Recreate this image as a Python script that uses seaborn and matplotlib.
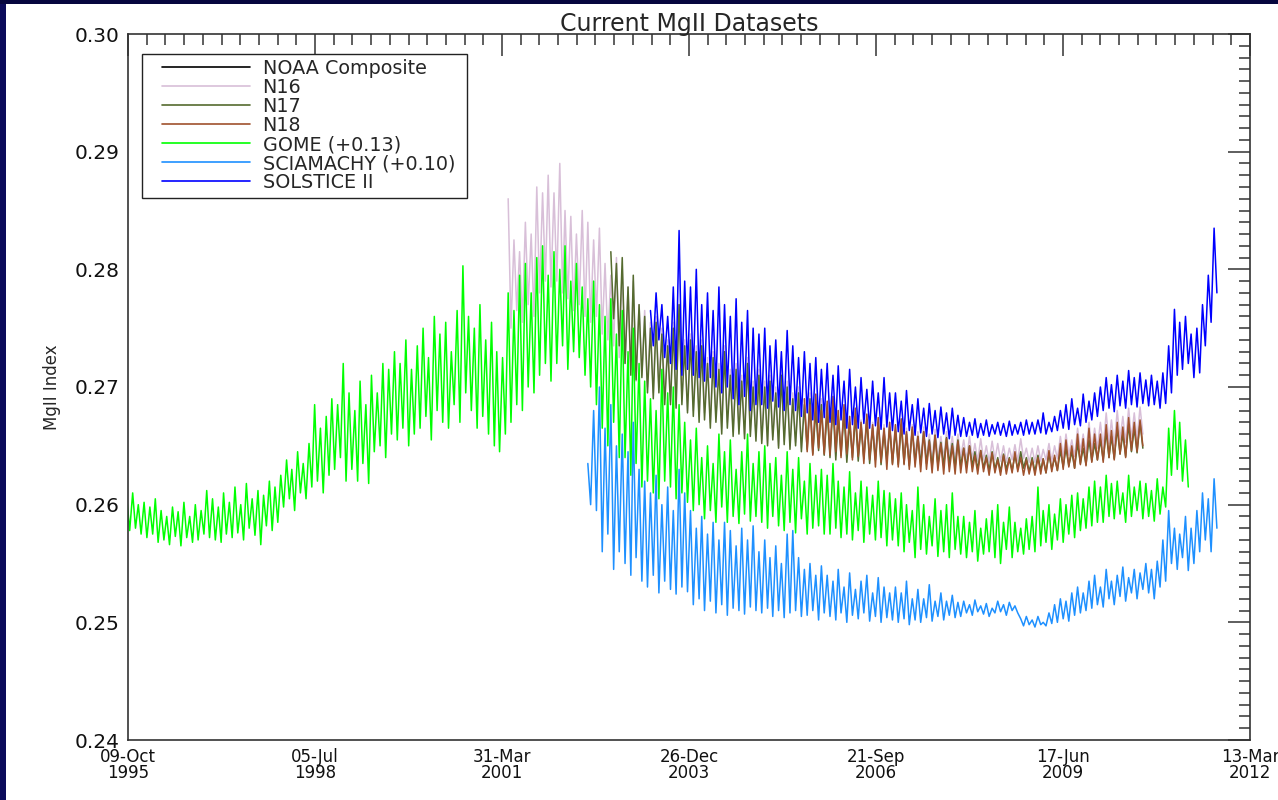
import pandas as pd
import numpy as np
import seaborn as sns
import matplotlib
matplotlib.use("Agg")
import matplotlib.pyplot as plt
import matplotlib.dates as mdates
from matplotlib.lines import Line2D
from matplotlib.ticker import MultipleLocator, FormatStrFormatter
from matplotlib.patches import Rectangle

# values, in units of 0.001 (MgII index x 1000)
# each series: monthly upper (rotation peak) and lower (trough) readings

# GOME (+0.13), Oct 1995 .. Apr 2011
gome_start = "1995-10"
gome_hi = [260.5, 261.0, 260.0,
           260.2, 259.8, 260.5, 259.5, 259.0, 259.8, 259.4, 260.2, 259.0, 260.0, 259.5, 261.2,
           260.5, 259.8, 261.0, 260.2, 261.5, 260.0, 261.8, 260.5, 261.2, 260.8, 262.0, 261.5,
           262.5, 263.8, 263.0, 264.5, 263.5, 265.2, 268.5, 266.5, 267.5, 269.0, 268.5, 272.0,
           269.5, 268.0, 270.5, 268.5, 271.0, 269.5, 272.0, 271.5, 273.0, 272.0, 274.0, 271.5,
           273.5, 275.0, 272.5, 276.0, 274.5, 275.5, 273.0, 276.5, 280.3, 276.0, 275.0, 277.0,
           274.0, 275.5, 273.0, 272.5, 278.0, 276.5, 279.5, 280.5, 278.0, 281.0, 282.0, 279.5,
           281.5, 280.0, 282.0, 279.0, 280.5, 278.5, 277.5, 279.0, 277.0, 276.0, 277.5, 274.5,
           276.5, 273.0, 275.0, 272.0, 270.5, 269.0, 268.0, 271.5, 269.5, 270.0, 268.5, 267.0,
           265.5, 266.5, 264.0, 265.0, 263.5, 266.0, 264.5, 265.5, 263.0, 264.5, 266.0, 263.5,
           264.5, 265.0, 263.5, 264.0, 262.5, 264.5, 263.0, 264.0, 262.0, 263.5, 262.5, 263.0,
           262.5, 263.5, 262.0, 261.5, 262.8, 261.0, 262.0, 261.5, 260.8, 262.0, 261.2, 261.0,
           260.5, 261.0, 260.0, 259.5, 261.5, 260.0, 259.0, 260.5, 259.5, 260.0, 261.0, 259.0,
           259.0, 258.5, 259.5, 258.0, 258.8, 259.5, 260.0, 258.5, 259.8, 258.5, 258.0, 258.8,
           259.0, 261.5, 259.5, 260.0, 259.2, 260.5, 260.0, 260.8, 261.0, 260.5, 261.5, 262.0,
           261.5, 262.5, 261.8, 262.0, 261.0, 262.5, 261.5, 262.0, 261.8, 261.2, 262.2, 261.5,
           266.5, 268.0, 267.0, 265.5]
gome_lo = [257.8, 258.0, 257.5,
           257.2, 257.5, 256.8, 257.0, 256.6, 257.3, 256.5, 257.2, 256.8, 257.0, 257.5, 257.2,
           257.0, 256.8, 257.5, 257.2, 257.6, 257.0, 258.0, 257.4, 256.6, 258.2, 257.8, 258.5,
           259.8, 260.5, 259.5, 261.0, 260.5, 261.5, 262.0, 261.0, 262.5, 263.0, 264.0, 262.0,
           263.0, 262.0, 263.5, 261.8, 264.5, 265.0, 264.0, 266.0, 265.5, 266.5, 265.0, 266.0,
           266.5, 267.5, 265.5, 268.0, 267.0, 266.5, 268.5, 267.0, 269.5, 268.0, 266.5, 267.5,
           266.0, 265.0, 264.5, 266.0, 267.0, 268.5, 268.0, 270.0, 269.5, 271.0, 272.0, 270.5,
           272.0, 273.5, 271.5, 273.0, 272.5, 271.0, 270.0, 268.5, 266.5, 265.0, 267.0, 264.0,
           264.0, 262.5, 263.5, 261.5, 262.0, 261.0, 260.5, 262.0, 261.5, 260.5, 261.0, 260.2,
           259.5, 260.0, 258.8, 259.5, 258.5, 259.8, 258.5, 259.0, 258.4, 259.2, 258.6, 259.0,
           258.5, 258.0, 259.0, 258.2, 257.8, 258.5, 257.6, 258.8, 257.5, 258.0, 258.2, 257.5,
           257.5, 258.0, 257.2, 257.5, 257.0, 257.8, 256.8, 257.5, 257.0, 257.2, 256.5, 257.0,
           256.5, 256.0, 256.8, 255.5, 256.2, 255.8, 256.5, 255.6, 256.0, 255.5, 256.2, 255.8,
           255.5, 256.0, 255.2, 255.8, 256.0, 255.5, 255.0, 256.2, 255.5, 256.0, 255.8, 256.2,
           256.0, 256.5, 256.8, 256.2, 257.0, 256.8, 257.5, 257.2, 257.8, 258.0, 258.2, 258.5,
           258.5, 259.0, 258.8, 259.2, 258.5, 259.0, 259.5, 258.8, 259.0, 258.6, 259.2, 259.8,
           262.5, 263.0, 262.0, 261.5]

# SCIAMACHY (+0.10), Jul 2002 .. Sep 2011
scia_start = "2002-07"
scia_hi = [263.5, 268.0, 270.0, 266.5, 268.5, 265.0,
           266.0, 264.5, 267.0, 263.0, 262.0, 261.0, 262.5, 260.0, 261.5, 259.5, 263.0, 261.0,
           259.5, 258.0, 259.0, 257.5, 258.5, 257.0, 258.5, 257.8, 256.5, 258.0, 257.0, 258.2,
           256.0, 257.0, 255.5, 256.5, 255.0, 257.5, 257.8, 255.5, 254.5, 255.0, 254.0, 254.8,
           254.0, 253.5, 254.5, 253.0, 254.2, 252.8, 253.5, 254.0, 252.5, 253.8, 253.0, 252.5,
           253.0, 252.5, 253.5, 252.0, 252.8, 252.0, 253.2, 251.8, 252.5, 251.8, 252.3, 251.7,
           251.8, 251.5, 251.9, 251.4, 251.6, 251.2, 251.8, 251.5, 251.7, 251.4, 250.3, 250.5,
           250.2, 250.5, 250.0, 250.8, 251.5, 252.0, 251.8, 252.5, 253.0, 252.5, 253.5, 254.0,
           253.0, 254.5, 253.5, 254.0, 254.7, 253.8, 254.5, 254.2, 255.0, 254.5, 255.2, 257.0,
           259.5, 258.0, 257.5, 259.0, 258.0, 259.5, 261.0, 260.5, 262.2]
scia_lo = [260.0, 259.5, 256.0, 257.5, 254.5, 256.0,
           255.0, 254.0, 255.5, 253.5, 253.0, 254.0, 252.5, 253.5, 252.8, 252.4, 253.0, 252.6,
           251.5, 252.0, 251.0, 251.8, 250.8, 251.5, 250.6, 251.2, 251.0, 250.7, 251.3, 251.0,
           250.8, 251.2, 250.5, 251.0, 250.4, 250.8, 251.0, 250.5, 250.6, 251.0, 250.2, 250.8,
           250.5, 250.2, 250.8, 250.0, 250.6, 250.3, 250.8, 250.1, 250.5, 250.0, 250.4, 250.2,
           250.0, 250.3, 249.8, 250.2, 250.0, 250.4, 250.1, 250.5, 250.2, 250.6, 250.4, 250.5,
           250.8, 250.6, 250.9, 250.7, 250.5, 250.8, 250.9, 250.6, 251.0, 250.8, 249.7, 249.8,
           249.6, 249.8, 249.7, 249.9, 250.0, 250.3, 250.1, 250.6, 250.8, 251.0, 251.2, 251.5,
           251.3, 252.0, 251.5, 252.2, 251.8, 252.5, 252.0, 252.8, 252.5, 252.0, 253.0, 253.5,
           255.0, 254.5, 255.5, 254.4, 255.0, 256.0, 257.0, 256.0, 258.0]

# N16, May 2001 .. Aug 2010
n16_start = "2001-05"
n16_hi = [286.0, 282.5, 281.5, 284.0, 283.0, 287.0, 286.5, 288.0,
          286.5, 289.0, 285.0, 284.5, 283.0, 285.0, 284.0, 282.5, 283.5, 280.5, 279.5, 281.0,
          280.0, 278.5, 279.0, 277.0, 276.5, 275.5, 276.0, 275.0, 274.0, 275.5, 277.0, 274.0,
          274.5, 273.5, 274.0, 272.5, 273.0, 272.0, 273.5, 271.5, 272.0, 271.0, 272.5, 270.5,
          271.5, 270.5, 271.0, 270.0, 271.5, 270.5, 269.5, 270.0, 269.0, 269.5, 268.5, 269.0,
          268.5, 269.0, 268.0, 268.2, 267.5, 268.0, 267.2, 267.6, 267.0, 267.4, 266.8, 267.0,
          266.8, 267.2, 266.5, 266.8, 266.2, 266.6, 266.0, 266.4, 265.8, 266.2, 265.8, 266.0,
          265.5, 265.8, 265.2, 265.6, 265.0, 265.4, 265.2, 265.0, 264.8, 265.1, 265.6, 264.8,
          264.8, 265.0, 264.7, 265.2, 265.0, 265.8, 266.0, 265.5, 266.5, 266.0, 267.0, 266.5,
          267.0, 267.8, 267.2, 268.0, 267.5, 268.2, 267.8, 268.3]
n16_lo = [275.0, 276.5, 275.5, 277.0, 276.0, 278.0, 279.0, 278.5,
          279.0, 278.0, 277.5, 276.5, 277.0, 276.0, 275.5, 276.0, 274.5, 274.0, 273.5, 272.5,
          272.0, 271.5, 270.5, 271.0, 270.0, 269.5, 270.0, 269.0, 268.8, 268.5, 269.0, 268.0,
          268.0, 267.5, 267.8, 267.0, 267.5, 266.5, 267.0, 266.2, 266.5, 266.0, 266.3, 265.8,
          265.5, 265.2, 265.8, 265.0, 265.4, 265.0, 265.3, 264.8, 265.0, 264.6, 264.9, 264.5,
          264.5, 264.2, 264.6, 264.0, 264.4, 264.1, 264.3, 263.9, 264.2, 263.8, 264.1, 263.9,
          263.9, 264.0, 263.8, 264.1, 263.9, 264.0, 263.8, 264.0, 263.9, 264.1, 263.8, 264.0,
          263.8, 263.9, 263.7, 263.8, 263.6, 263.8, 263.7, 263.6, 263.8, 263.7, 263.9, 263.6,
          263.6, 263.7, 263.8, 263.7, 263.9, 264.0, 264.2, 264.1, 264.5, 264.3, 264.6, 264.8,
          264.8, 265.2, 265.0, 265.5, 265.3, 265.6, 265.5, 266.0]

# N17, Nov 2002 .. Aug 2010
n17_start = "2002-11"
n17_hi = [281.5, 280.5,
          281.0, 278.5, 279.5, 277.0, 276.0, 275.0, 275.5, 274.5, 273.5, 275.0, 277.0, 273.5,
          274.0, 273.0, 273.5, 272.0, 272.5, 271.5, 273.0, 271.0, 271.5, 270.5, 272.0, 270.0,
          271.0, 270.0, 270.5, 269.5, 271.0, 270.0, 269.0, 269.5, 268.5, 269.0, 268.0, 268.5,
          268.0, 268.5, 267.5, 267.8, 267.0, 267.5, 266.8, 267.2, 266.5, 267.0, 266.2, 266.6,
          266.3, 266.8, 266.0, 266.4, 265.8, 266.2, 265.5, 265.9, 265.3, 265.7, 265.2, 265.5,
          264.8, 265.0, 264.5, 264.6, 264.2, 264.5, 264.0, 264.3, 264.0, 264.2, 264.5, 264.0,
          264.0, 264.2, 263.9, 264.3, 264.0, 264.6, 264.8, 264.5, 265.2, 264.8, 265.5, 265.2,
          265.5, 266.2, 265.8, 266.5, 266.0, 266.8, 266.5, 267.0]
n17_lo = [275.8, 273.5,
          272.0, 271.0, 270.6, 270.8, 269.5, 269.0, 269.5, 268.5, 268.5, 268.2, 268.5, 267.8,
          267.5, 267.0, 267.2, 266.5, 267.0, 266.0, 266.5, 265.8, 266.0, 265.6, 265.8, 265.4,
          265.2, 265.0, 265.5, 264.8, 265.1, 264.7, 265.0, 264.5, 264.7, 264.3, 264.6, 264.2,
          264.0, 263.8, 264.2, 263.6, 264.0, 263.7, 263.9, 263.5, 263.8, 263.4, 263.7, 263.5,
          263.4, 263.5, 263.3, 263.6, 263.4, 263.5, 263.2, 263.4, 263.3, 263.5, 263.2, 263.3,
          263.2, 263.3, 263.0, 263.1, 262.9, 263.0, 262.8, 263.0, 262.9, 263.0, 263.1, 262.8,
          262.8, 262.9, 262.7, 263.0, 262.9, 263.2, 263.3, 263.1, 263.5, 263.4, 263.7, 263.8,
          263.8, 264.0, 263.9, 264.3, 264.1, 264.5, 264.4, 264.8]

# N18, Sep 2005 .. Aug 2010
n18_start = "2005-09"
n18_hi = [269.0, 268.5, 269.4, 268.0,
          268.8, 269.2, 268.0, 268.5, 267.5, 268.2, 267.0, 267.7, 266.8, 267.4, 266.5, 267.0,
          266.8, 267.3, 266.2, 266.6, 265.8, 266.2, 265.4, 265.9, 265.2, 265.6, 265.0, 265.4,
          264.8, 265.0, 264.2, 264.6, 264.0, 264.4, 263.8, 264.2, 263.9, 264.5, 264.0, 263.8,
          263.8, 264.0, 263.9, 264.6, 264.2, 265.2, 265.5, 265.0, 266.0, 265.6, 266.5, 266.0,
          266.0, 266.8, 266.3, 267.0, 266.6, 267.4, 267.0, 267.2]
n18_lo = [264.5, 264.2, 264.8, 264.3,
          264.2, 264.5, 264.0, 264.3, 263.8, 264.1, 263.5, 263.8, 263.2, 263.6, 263.0, 263.4,
          263.2, 263.4, 263.0, 263.2, 262.8, 263.0, 262.7, 262.9, 262.6, 262.8, 262.6, 262.7,
          262.7, 262.8, 262.6, 262.8, 262.5, 262.7, 262.5, 262.6, 262.7, 262.8, 262.5, 262.6,
          262.5, 262.6, 262.7, 262.8, 262.9, 263.0, 263.2, 263.1, 263.4, 263.3, 263.6, 263.8,
          263.6, 264.0, 263.8, 264.3, 264.0, 264.6, 264.5, 265.0]

# SOLSTICE II, Jun 2003 .. Sep 2011
sol_start = "2003-06"
sol_hi = [276.5, 278.0, 277.0, 276.0, 278.5, 283.3, 279.0,
          278.5, 280.0, 277.0, 278.0, 276.5, 278.5, 277.0, 276.0, 277.5, 275.5, 276.5, 275.0,
          274.5, 275.0, 273.5, 274.0, 273.0, 274.8, 273.5, 272.5, 273.0, 272.0, 272.5, 271.5,
          272.0, 271.0, 271.8, 270.5, 271.5, 270.0, 270.8, 269.8, 270.5, 269.5, 270.8, 269.5,
          269.5, 268.8, 269.7, 268.5, 269.0, 268.2, 268.6, 268.0, 268.3, 267.8, 268.2, 267.6,
          267.4, 267.0, 267.3, 266.9, 267.2, 266.8, 267.0, 266.9, 267.1, 266.8, 267.0, 267.2,
          267.0, 267.2, 267.8, 267.0, 267.5, 268.0, 268.5, 269.0, 268.2, 269.4, 268.8, 269.5,
          270.0, 270.8, 270.2, 271.0, 270.5, 271.4, 270.8, 271.2, 270.6, 271.0, 270.5, 271.2,
          273.5, 276.6, 275.5, 276.0, 274.5, 275.0, 277.0, 279.5, 283.5]
sol_lo = [273.5, 274.0, 272.5, 272.0, 271.5, 271.0, 271.5,
          271.0, 270.8, 270.5, 270.8, 270.0, 269.5, 270.0, 269.0, 268.5, 269.2, 268.0, 268.5,
          268.5, 268.2, 268.8, 268.3, 268.0, 268.5, 268.0, 267.5, 267.8, 267.2, 267.0, 267.4,
          267.0, 266.8, 267.2, 266.5, 266.8, 266.5, 266.9, 266.5, 266.7, 266.4, 266.6, 266.3,
          266.2, 266.0, 266.3, 265.9, 266.1, 265.8, 266.0, 265.7, 266.0, 265.6, 265.9, 265.8,
          265.8, 265.9, 265.7, 265.9, 265.8, 266.0, 265.9, 265.8, 265.9, 266.0, 265.9, 266.0,
          266.0, 266.1, 266.0, 266.2, 266.3, 266.5, 266.4, 266.8, 266.7, 267.0, 267.2, 267.5,
          268.0, 268.2, 267.9, 268.4, 268.2, 268.5, 268.3, 268.6, 268.4, 268.5, 268.2, 268.6,
          269.5, 271.0, 271.5, 272.0, 270.8, 271.2, 273.5, 275.5, 278.0]

legend_names = ["NOAA Composite", "N16", "N17", "N18",
                "GOME (+0.13)", "SCIAMACHY (+0.10)", "SOLSTICE II"]
colors = {"NOAA Composite": "black", "N16": "#d8bfd8", "N17": "#556b2f",
          "N18": "#a0522d", "GOME (+0.13)": "#00ff00",
          "SCIAMACHY (+0.10)": "#1e90ff", "SOLSTICE II": "#0000ff"}


def monthly(name, start, hi, lo):
    # peak reading early in the month, trough reading half a month later
    t = pd.date_range(start, periods=len(hi), freq="MS") + pd.Timedelta(days=2)
    a = pd.DataFrame({"date": t, "value": np.array(hi) / 1000})
    b = pd.DataFrame({"date": t + pd.Timedelta(days=15), "value": np.array(lo) / 1000})
    d = pd.concat([a, b]).sort_values("date")
    d["series"] = name
    return d


df = pd.concat([
    monthly("N16", n16_start, n16_hi, n16_lo),
    monthly("N17", n17_start, n17_hi, n17_lo),
    monthly("N18", n18_start, n18_hi, n18_lo),
    monthly("GOME (+0.13)", gome_start, gome_hi, gome_lo),
    monthly("SCIAMACHY (+0.10)", scia_start, scia_hi, scia_lo),
    monthly("SOLSTICE II", sol_start, sol_hi, sol_lo),
], ignore_index=True)

sns.set_theme(style="white")
plt.rcParams["font.family"] = ["DejaVu Sans"]

fig = plt.figure(figsize=(12.78, 8.0), dpi=100)
fig.patch.set_facecolor("white")
# dark slide border on the left and top
fig.patches.append(Rectangle((0, 0), 6 / 1278, 1, transform=fig.transFigure,
                             facecolor="#0b0b5a", edgecolor="none", zorder=-5))
fig.patches.append(Rectangle((0, 796 / 800), 1, 4 / 800, transform=fig.transFigure,
                             facecolor="#06063e", edgecolor="none", zorder=-5))
ax = fig.add_axes([128 / 1278, 60 / 800, 1122 / 1278, 706 / 800])
ax.set_facecolor("white")

order = legend_names[1:]
sns.lineplot(data=df, x="date", y="value", hue="series", hue_order=order,
             palette=colors, estimator=None, linewidth=1.1, legend=False, ax=ax)

# IDL style date axis: ticks every 1000 days from 09-Oct-1995
t0 = pd.Timestamp("1995-10-09")
t1 = pd.Timestamp("2012-03-13")
major = pd.date_range(t0, periods=7, freq="1000D")
minor = pd.date_range(t0, t1, freq="100D")
ax.set_xlim(mdates.date2num(t0), mdates.date2num(t1))
ax.set_xticks(mdates.date2num(major),
              labels=[d.strftime("%d-%b\n%Y") for d in major], linespacing=0.8)
ax.set_xticks(mdates.date2num(minor), minor=True)

ax.set_ylim(0.24, 0.30)
ax.yaxis.set_major_locator(MultipleLocator(0.01))
ax.yaxis.set_minor_locator(MultipleLocator(0.001))
ax.yaxis.set_major_formatter(FormatStrFormatter("%.2f"))

for s in ax.spines.values():
    s.set_color("#333333")
    s.set_linewidth(1.2)
ax.tick_params(which="both", direction="in", top=True, right=True,
               color="#333333", width=1.1, labelcolor="#111111")
ax.tick_params(which="major", length=16, pad=6)
ax.tick_params(which="minor", length=8)
ax.tick_params(axis="x", labelsize=12)
ax.tick_params(axis="y", labelsize=14.5)

ax.set_xlabel("")
ax.set_ylabel("MgII Index", fontsize=12, labelpad=10)
ax.set_title("Current MgII Datasets", fontsize=17, pad=2)

# legend box drawn as a plain frame, entries placed inside it
ax.add_patch(Rectangle((14 / 1122, 542 / 706), 325 / 1122, 144 / 706,
                       transform=ax.transAxes, facecolor="white",
                       edgecolor="#222222", linewidth=1.0, zorder=4))
handles = [Line2D([], [], color=colors[n], linewidth=1.2) for n in legend_names]
leg = ax.legend(handles, legend_names, loc="upper left",
                bbox_to_anchor=(34 / 1122, 681 / 706), borderaxespad=0,
                fontsize=13.8, handlelength=4.6, handletextpad=0.65,
                labelspacing=0.0, borderpad=0, frameon=False)
leg.set_zorder(5)

fig.savefig("out.png", dpi=100, facecolor=fig.get_facecolor())
